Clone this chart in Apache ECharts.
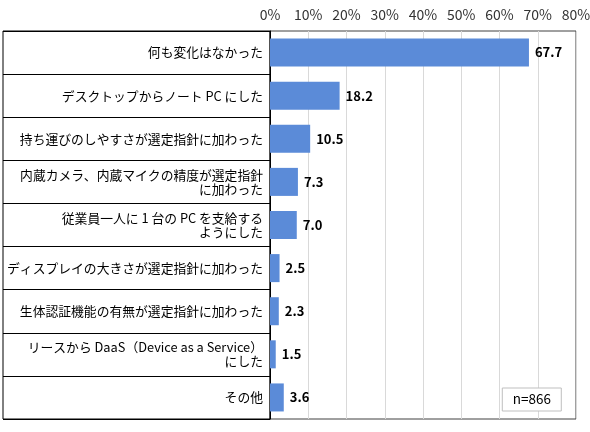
<!DOCTYPE html>
<html>
<head>
<meta charset="utf-8">
<script src="https://cdn.jsdelivr.net/npm/echarts@6/dist/echarts.min.js"></script>
<style>
  html, body { margin: 0; padding: 0; background: #fff; }
  #chart { width: 590px; height: 432px; }
</style>
</head>
<body>
<div id="chart"></div>
<script>
// categories, top to bottom
var categories = [
	'何も変化はなかった',
	'デスクトップからノート PC にした',
	'持ち運びのしやすさが選定指針に加わった',
	'内蔵カメラ、内蔵マイクの精度が選定指針\nに加わった',
	'従業員一人に 1 台の PC を支給する\nようにした',
	'ディスプレイの大きさが選定指針に加わった',
	'生体認証機能の有無が選定指針に加わった',
	'リースから DaaS（Device as a Service）\nにした',
	'その他'
];
var values = [67.7, 18.2, 10.5, 7.3, 7.0, 2.5, 2.3, 1.5, 3.6];
var sampleSize = 'n=866';

var font = '"Noto Sans CJK JP", "Noto Sans", sans-serif';

var myChart = echarts.init(document.getElementById('chart'));

var option = {
	animation: false,
	textStyle: { fontFamily: font },
	title: {
		text: sampleSize,
		right: 28,
		bottom: 21,
		padding: [5, 11],
		borderWidth: 1,
		borderColor: '#bfbfbf',
		backgroundColor: '#fff',
		textStyle: { fontFamily: font, fontSize: 13.5, fontWeight: 'normal', color: '#000' }
	},
	grid: [
		/* plot area */
		{ left: 270, right: 14, top: 31, bottom: 13, show: true, borderColor: '#404040', borderWidth: 1, outerBoundsMode: 'none', containLabel: false },
		/* label table on the left */
		{ left: 3, width: 267, top: 31, bottom: 13, show: true, borderColor: '#000', borderWidth: 1, outerBoundsMode: 'none', containLabel: false }
	],
	xAxis: [
		{
			gridIndex: 0,
			type: 'value',
			position: 'top',
			min: 0,
			max: 80,
			interval: 10,
			axisLine: { show: false },
			axisTick: { show: false },
			axisLabel: { formatter: '{value}%', fontSize: 14, color: '#333', margin: 9, fontFamily: font },
			splitLine: { lineStyle: { color: '#d9d9d9' } }
		},
		{
			gridIndex: 1,
			type: 'value',
			show: false
		}
	],
	yAxis: [
		{
			gridIndex: 0,
			type: 'category',
			inverse: true,
			data: categories,
			axisLine: { lineStyle: { color: '#000' } },
			axisTick: { show: false },
			axisLabel: { fontSize: 12.8, color: '#000', margin: 7, lineHeight: 13.5, align: 'right', fontFamily: font }
		},
		{
			gridIndex: 1,
			type: 'category',
			inverse: true,
			data: categories,
			axisLine: { show: false },
			axisTick: { show: false },
			axisLabel: { show: false },
			splitLine: { show: true, lineStyle: { color: '#000', width: 1 } }
		}
	],
	series: [
		{
			type: 'bar',
			xAxisIndex: 0,
			yAxisIndex: 0,
			data: values,
			barCategoryGap: '35%',
			itemStyle: { color: '#5b8bd8' },
			label: {
				show: true,
				position: 'right',
				distance: 6,
				formatter: function(p){ return p.value.toFixed(1); },
				fontSize: 13,
				fontWeight: 'bold',
				color: '#000',
				fontFamily: font
			}
		}
	]
};

myChart.setOption(option);
</script>
</body>
</html>
